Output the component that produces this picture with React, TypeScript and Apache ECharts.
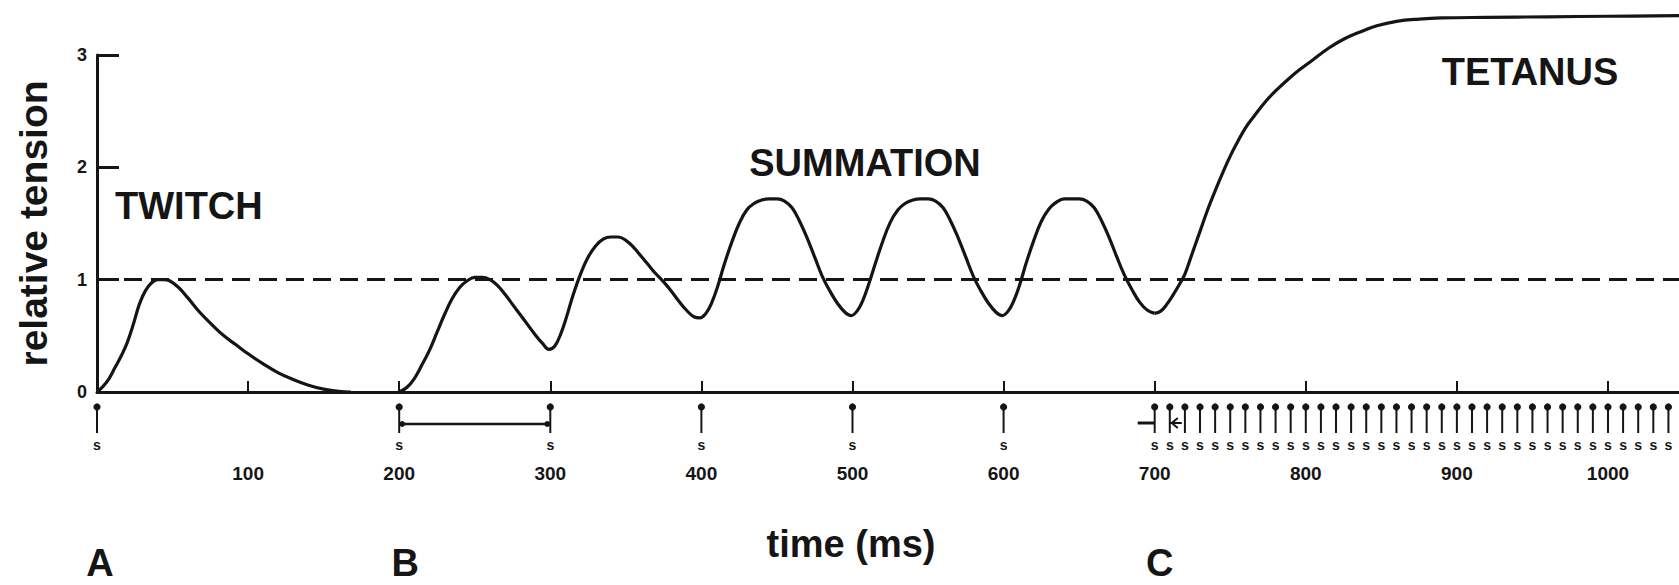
import React, { useEffect, useRef } from "react";
import * as echarts from "echarts";

// ---- data ----
const twitchTime = [0, 4, 8, 12, 16, 20, 24, 28, 32, 36, 40, 44, 48, 54, 60, 68, 76, 84, 92, 100, 110, 120, 130, 140, 150, 160, 168];
const twitchTension = [0, 0.05, 0.12, 0.22, 0.32, 0.44, 0.6, 0.78, 0.9, 0.97, 1.0, 1.0, 0.99, 0.93, 0.84, 0.71, 0.6, 0.5, 0.42, 0.34, 0.25, 0.17, 0.11, 0.06, 0.025, 0.005, 0];

const summationTime = [
  200, 205, 210, 215, 220, 225, 230, 235, 240, 245, 250, 255, 260, 265, 270, 275, 280, 285, 290, 295, 299,
  303, 307, 311, 315, 320, 325, 330, 335, 340, 345, 350, 355, 360, 365, 370, 375, 380, 385, 390, 395, 399,
  403, 407, 411, 415, 420, 425, 430, 435, 440, 445, 450, 455, 460, 465, 470, 475, 480, 485, 490, 495, 499,
  503, 507, 511, 515, 520, 525, 530, 535, 540, 545, 550, 555, 560, 565, 570, 575, 580, 585, 590, 595, 599,
  603, 607, 611, 615, 620, 625, 630, 635, 640, 645, 650, 655, 660, 665, 670, 675, 680, 685, 690, 695, 700,
];
const summationTension = [
  0, 0.04, 0.12, 0.24, 0.37, 0.53, 0.69, 0.83, 0.93, 0.99, 1.02, 1.02, 1.0, 0.95, 0.87, 0.78, 0.69, 0.6, 0.51, 0.43, 0.38,
  0.41, 0.52, 0.68, 0.86, 1.05, 1.2, 1.3, 1.36, 1.38, 1.38, 1.35, 1.29, 1.21, 1.13, 1.05, 0.98, 0.9, 0.81, 0.73, 0.67, 0.66,
  0.7, 0.8, 0.95, 1.13, 1.33, 1.5, 1.62, 1.68, 1.71, 1.72, 1.72, 1.7, 1.64, 1.52, 1.37, 1.2, 1.03, 0.9, 0.79, 0.71, 0.68,
  0.72, 0.82, 0.97, 1.14, 1.34, 1.51, 1.62, 1.68, 1.71, 1.72, 1.72, 1.7, 1.64, 1.52, 1.37, 1.2, 1.03, 0.9, 0.79, 0.71, 0.68,
  0.72, 0.82, 0.97, 1.15, 1.35, 1.52, 1.63, 1.69, 1.72, 1.72, 1.72, 1.7, 1.64, 1.52, 1.37, 1.2, 1.04, 0.91, 0.8, 0.73, 0.7,
];

const tetanusTime = [700, 704, 708, 712, 716, 720, 725, 730, 735, 740, 745, 750, 755, 760, 766, 773, 780, 788, 796, 805, 815, 825, 835, 847, 860, 875, 890, 920, 960, 1000, 1047];
const tetanusTension = [0.7, 0.72, 0.78, 0.86, 0.95, 1.05, 1.24, 1.43, 1.62, 1.79, 1.95, 2.1, 2.23, 2.35, 2.46, 2.58, 2.68, 2.78, 2.87, 2.96, 3.06, 3.14, 3.2, 3.26, 3.3, 3.32, 3.33, 3.335, 3.34, 3.345, 3.35];

const singleStimuli = [0, 200, 300, 400, 500, 600];
const tetanicStimuli = [700, 710, 720, 730, 740, 750, 760, 770, 780, 790, 800, 810, 820, 830, 840, 850, 860, 870, 880, 890, 900, 910, 920, 930, 940, 950, 960, 970, 980, 990, 1000, 1010, 1020, 1030, 1040];
const intervalBracket = [200, 300];
const tetanicInterval = [700, 710];

const referenceTension = 1;
const timeMin = 0;
const timeMax = 1047;
const timeStep = 100;
const tensionMin = 0;
const tensionMax = 3;
const tensionStep = 1;

const panelLabels = ["A", "B", "C"];
const panelTimes = [0, 200, 700];
const phaseLabels = ["TWITCH", "SUMMATION", "TETANUS"];

const INK = "#151515";
const FONT = '"Liberation Sans", Arial, Helvetica, sans-serif';

const pairs = (xs: number[], ys: number[]) => xs.map((x, i) => [x, ys[i]]);

export default function App() {
  const ref = useRef<HTMLDivElement>(null);

  useEffect(() => {
    if (!ref.current) return;
    const chart = echarts.init(ref.current, null, { renderer: "svg" });

    const stimulusItem = (params: any, api: any) => {
      const p = api.coord([api.value(0), 0]);
      const x = p[0];
      const y0 = p[1];
      return {
        type: "group",
        children: [
          { type: "line", shape: { x1: x, y1: y0 + 15, x2: x, y2: y0 + 41 }, style: { stroke: INK, lineWidth: 2 } },
          { type: "circle", shape: { cx: x, cy: y0 + 15, r: 3.6 }, style: { fill: INK } },
          {
            type: "text",
            style: { text: "s", x, y: y0 + 53, textAlign: "center", textVerticalAlign: "middle", font: `bold 14px ${FONT}`, fill: INK },
          },
        ],
      };
    };

    const bracketItem = (params: any, api: any) => {
      const a = api.coord([api.value(0), 0]);
      const b = api.coord([api.value(1), 0]);
      const y = a[1] + 32;
      return {
        type: "group",
        children: [
          { type: "line", shape: { x1: a[0], y1: y, x2: b[0], y2: y }, style: { stroke: INK, lineWidth: 2.6 } },
          { type: "circle", shape: { cx: a[0] + 3, cy: y, r: 3 }, style: { fill: INK } },
          { type: "circle", shape: { cx: b[0] - 3, cy: y, r: 3 }, style: { fill: INK } },
        ],
      };
    };

    const intervalItem = (params: any, api: any) => {
      const a = api.coord([api.value(0), 0]);
      const b = api.coord([api.value(1), 0]);
      const y = a[1] + 31;
      return {
        type: "group",
        children: [
          { type: "line", shape: { x1: a[0] - 17, y1: y, x2: a[0], y2: y }, style: { stroke: INK, lineWidth: 3 } },
          { type: "line", shape: { x1: b[0], y1: y, x2: b[0] + 12, y2: y }, style: { stroke: INK, lineWidth: 2 } },
          {
            type: "polyline",
            shape: { points: [[b[0] + 8, y - 5], [b[0] + 2, y], [b[0] + 8, y + 5]] },
            style: { stroke: INK, lineWidth: 2, fill: "none" },
          },
        ],
      };
    };

    const curveStyle = { color: INK, width: 3.2 };

    const textEl = (text: string, x: number, y: number, align: string, size = 38) => ({
      type: "text",
      x,
      y,
      style: { text, textAlign: align, textVerticalAlign: "middle", font: `bold ${size}px ${FONT}`, fill: INK },
    });

    chart.setOption({
      animation: false,
      backgroundColor: "#ffffff",
      grid: { left: 97, right: 0, top: 55, bottom: 193 },
      xAxis: {
        type: "value",
        min: timeMin,
        max: timeMax,
        interval: timeStep,
        axisLine: { show: true, lineStyle: { color: INK, width: 3 } },
        axisTick: { show: true, inside: true, length: 11, lineStyle: { color: INK, width: 2 } },
        axisLabel: {
          margin: 72,
          showMaxLabel: false,
          color: INK,
          fontFamily: FONT,
          fontWeight: "bold",
          fontSize: 19,
          formatter: (v: number) => (v === 0 || v % timeStep !== 0 ? "" : String(v)),
        },
        splitLine: { show: false },
      },
      yAxis: {
        type: "value",
        min: tensionMin,
        max: tensionMax,
        interval: tensionStep,
        name: "relative tension",
        nameLocation: "middle",
        nameGap: 44,
        nameTextStyle: { color: INK, fontFamily: FONT, fontWeight: "bold", fontSize: 39 },
        axisLine: { show: true, lineStyle: { color: INK, width: 3 } },
        axisTick: { show: true, inside: true, length: 22, lineStyle: { color: INK, width: 3 } },
        axisLabel: { margin: 10, color: INK, fontFamily: FONT, fontWeight: "bold", fontSize: 18 },
        splitLine: { show: false },
      },
      series: [
        {
          name: "twitch",
          type: "line",
          data: pairs(twitchTime, twitchTension),
          symbol: "none",
          smooth: 0.4,
          lineStyle: curveStyle,
          markLine: {
            silent: true,
            symbol: "none",
            label: { show: false },
            lineStyle: { color: INK, width: 3, type: [18, 9] },
            data: [{ yAxis: referenceTension }],
          },
        },
        {
          name: "summation",
          type: "line",
          data: pairs(summationTime, summationTension),
          symbol: "none",
          smooth: 0.4,
          lineStyle: curveStyle,
        },
        {
          name: "tetanus",
          type: "line",
          data: pairs(tetanusTime, tetanusTension),
          symbol: "none",
          smooth: 0.4,
          clip: false,
          lineStyle: curveStyle,
        },
        {
          name: "stimuli",
          type: "custom",
          clip: false,
          silent: true,
          data: singleStimuli.concat(tetanicStimuli).map((t) => [t, 0]),
          renderItem: stimulusItem,
        },
        {
          name: "bracket",
          type: "custom",
          clip: false,
          silent: true,
          data: [intervalBracket],
          renderItem: bracketItem,
        },
        {
          name: "interval",
          type: "custom",
          clip: false,
          silent: true,
          data: [tetanicInterval],
          renderItem: intervalItem,
        },
      ],
      graphic: [
        textEl(phaseLabels[0], 115, 206, "left"),
        textEl(phaseLabels[1], 865, 163, "center"),
        textEl(phaseLabels[2], 1530, 72, "center"),
        textEl("time (ms)", 851, 544, "center"),
        textEl(panelLabels[0], 97 + panelTimes[0] * 1.511 + 3, 563, "center", 38),
        textEl(panelLabels[1], 97 + panelTimes[1] * 1.511 + 6, 563, "center", 38),
        textEl(panelLabels[2], 97 + panelTimes[2] * 1.511 + 5, 563, "center", 38),
      ],
    });

    return () => chart.dispose();
  }, []);

  return (
    <div
      ref={ref}
      style={{ position: "absolute", left: 0, top: 0, width: 1679, height: 585, background: "#ffffff" }}
    />
  );
}
